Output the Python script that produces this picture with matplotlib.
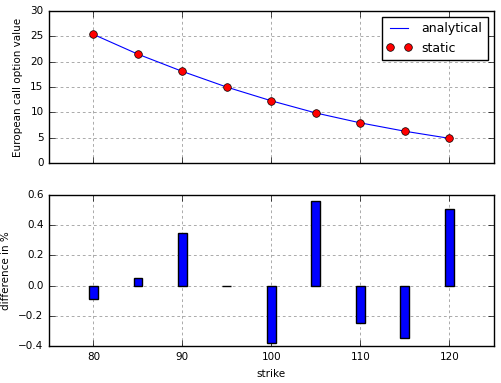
import numpy as np
import matplotlib
matplotlib.use('Agg')
import matplotlib.pyplot as plt

plt.style.use('classic')
plt.rcParams['font.size'] = 7.5
plt.rcParams['grid.color'] = '#aaaaaa'
plt.rcParams['grid.linestyle'] = (0, (2, 2))
plt.rcParams['grid.linewidth'] = 0.7
plt.rcParams['axes.axisbelow'] = True

strikes = [80, 85, 90, 95, 100, 105, 110, 115, 120]
analytical = [25.4, 21.5, 18.1, 15.0, 12.3, 9.9, 7.95, 6.3, 4.9]
static = [25.4, 21.5, 18.1, 15.0, 12.3, 9.9, 7.95, 6.3, 4.9]
diff_pct = [-0.09, 0.05, 0.35, -0.003, -0.38, 0.56, -0.25, -0.35, 0.51]

fig = plt.figure(figsize=(5.02, 3.83), dpi=100)
ax1 = fig.add_axes([0.0976, 0.574, 0.886, 0.397])
ax1.plot(strikes, analytical, 'b', label='analytical', linewidth=0.8)
ax1.plot(strikes, static, 'ro', label='static', markersize=5.5)
ax1.set_xlim(75, 125)
ax1.set_ylim(0, 30)
ax1.set_xticks([80, 90, 100, 110, 120])
ax1.set_xticklabels([])
ax1.set_ylabel('European call option value')
ax1.grid(True)
ax1.legend(loc=0)

ax2 = fig.add_axes([0.0976, 0.0966, 0.886, 0.394])
ax2.bar(strikes, diff_pct, width=1.0, color='b')
ax2.set_xlim(75, 125)
ax2.set_ylim(-0.4, 0.6)
ax2.set_xticks([80, 90, 100, 110, 120])
ax2.set_xlabel('strike')
ax2.set_ylabel('difference in %')
ax2.grid(True)

fig.savefig('out.png', dpi=100)
